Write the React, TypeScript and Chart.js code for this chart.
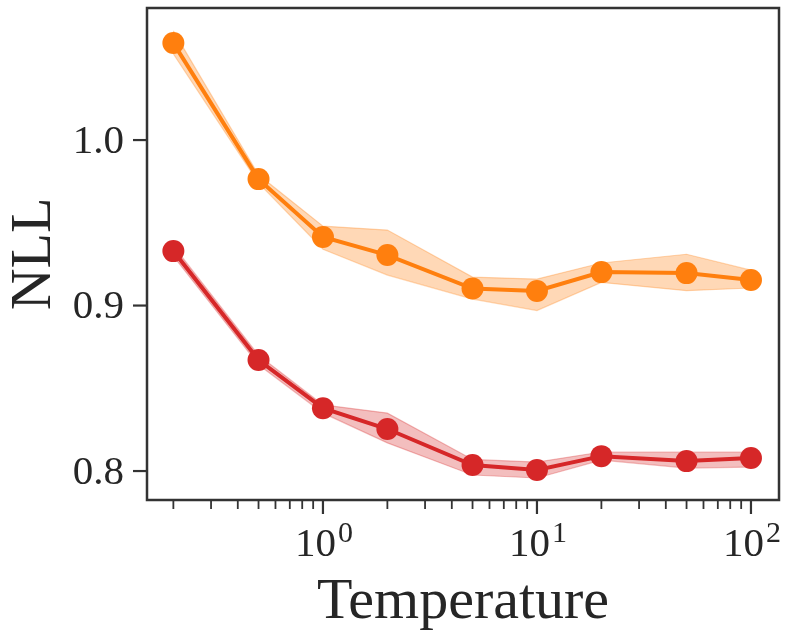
import { useEffect, useRef } from "react"
import { Chart, registerables } from "chart.js"

Chart.register(...registerables)

const FONT = '"Liberation Serif", "DejaVu Serif", serif'

// Temperature (log axis)
const temperatures = [0.2, 0.5, 1, 2, 5, 10, 20, 50, 100]

// orange series
const orangeMean = [1.0586, 0.9764, 0.9414, 0.9305, 0.9103, 0.9088, 0.9202, 0.9196, 0.9154]
const orangeUpper = [1.066, 0.979, 0.948, 0.9456, 0.9172, 0.916, 0.9257, 0.931, 0.9214]
const orangeLower = [1.052, 0.974, 0.934, 0.9184, 0.9039, 0.897, 0.914, 0.909, 0.9106]

// red series
const redMean = [0.9329, 0.8671, 0.838, 0.8254, 0.8036, 0.8006, 0.809, 0.806, 0.8079]
const redUpper = [0.936, 0.87, 0.84, 0.835, 0.807, 0.8054, 0.8115, 0.8115, 0.8115]
const redLower = [0.9298, 0.8642, 0.835, 0.817, 0.7976, 0.7958, 0.8066, 0.8018, 0.8024]

const yTicks = [0.8, 0.9, 1.0]
const xMajorTicks = [1, 10, 100]
const xMajorExp = ["0", "1", "2"]
const xMinorTicks = [0.2, 0.3, 0.4, 0.5, 0.6, 0.7, 0.8, 0.9, 2, 3, 4, 5, 6, 7, 8, 9, 20, 30, 40, 50, 60, 70, 80, 90]

const toPoints = (ys: number[]) => temperatures.map((t, i) => ({ x: t, y: ys[i] }))

const ORANGE = "#ff7f0e"
const RED = "#d62728"
const rgba = (hex: string, a: number) => {
  const n = parseInt(hex.slice(1), 16)
  return `rgba(${(n >> 16) & 255}, ${(n >> 8) & 255}, ${n & 255}, ${a})`
}

const axesPlugin = {
  id: "axesFrame",
  afterDraw(chart: Chart) {
    const { ctx, chartArea: a } = chart
    const xs = chart.scales.x
    const ys = chart.scales.y
    const seg = (x1: number, y1: number, x2: number, y2: number) => {
      ctx.beginPath()
      ctx.moveTo(x1, y1)
      ctx.lineTo(x2, y2)
      ctx.stroke()
    }
    ctx.save()
    ctx.strokeStyle = "#333333"
    ctx.fillStyle = "#262626"

    // frame
    ctx.lineWidth = 2.5
    ctx.strokeRect(a.left, a.top, a.right - a.left, a.bottom - a.top)

    // y ticks
    ctx.lineWidth = 2.2
    ctx.font = `41px ${FONT}`
    ctx.textAlign = "right"
    ctx.textBaseline = "middle"
    yTicks.forEach((v) => {
      const py = ys.getPixelForValue(v)
      seg(a.left - 14, py, a.left, py)
      ctx.fillText(v.toFixed(1), a.left - 23, py + 2)
    })

    // x minor ticks
    ctx.lineWidth = 1.8
    xMinorTicks.forEach((v) => {
      const px = xs.getPixelForValue(v)
      if (px < a.left || px > a.right) return
      seg(px, a.bottom, px, a.bottom + 9)
    })

    // x major ticks + labels
    ctx.lineWidth = 2.2
    ctx.textAlign = "left"
    ctx.textBaseline = "alphabetic"
    xMajorTicks.forEach((v, i) => {
      const px = xs.getPixelForValue(v)
      seg(px, a.bottom, px, a.bottom + 14)
      ctx.font = `41px ${FONT}`
      const w1 = ctx.measureText("10").width
      ctx.font = `30px ${FONT}`
      const w2 = ctx.measureText(xMajorExp[i]).width
      const x0 = px - (w1 + w2) / 2
      ctx.font = `41px ${FONT}`
      ctx.fillText("10", x0, a.bottom + 56)
      ctx.font = `30px ${FONT}`
      ctx.fillText(xMajorExp[i], x0 + w1 + 2, a.bottom + 42)
    })

    // axis titles
    ctx.font = `58px ${FONT}`
    ctx.textAlign = "center"
    ctx.fillText("Temperature", (a.left + a.right) / 2, a.bottom + 118)

    ctx.translate(50, (a.top + a.bottom) / 2)
    ctx.rotate(-Math.PI / 2)
    ctx.fillText("NLL", 0, 0)
    ctx.restore()
  },
}

function NllChart() {
  const chartRef = useRef<HTMLCanvasElement>(null)
  const chartInstance = useRef<Chart | null>(null)

  useEffect(() => {
    if (!chartRef.current) return
    if (chartInstance.current) chartInstance.current.destroy()
    const ctx = chartRef.current.getContext("2d")
    if (!ctx) return

    const band = (ys: number[], color: string, fill: boolean | string) => ({
      data: toPoints(ys),
      borderColor: rgba(color, 0.3),
      backgroundColor: rgba(color, 0.3),
      borderWidth: 1.2,
      pointRadius: 0,
      fill,
      order: 3,
    })
    const mean = (ys: number[], color: string) => ({
      data: toPoints(ys),
      borderColor: color,
      backgroundColor: color,
      borderWidth: 4,
      pointRadius: 11,
      pointBorderWidth: 0,
      pointBackgroundColor: color,
      fill: false,
      order: 1,
    })

    chartInstance.current = new Chart(ctx, {
      type: "line",
      data: {
        datasets: [
          band(orangeLower, ORANGE, false),
          band(orangeUpper, ORANGE, "-1"),
          band(redLower, RED, false),
          band(redUpper, RED, "-1"),
          mean(orangeMean, ORANGE),
          mean(redMean, RED),
        ] as any,
      },
      options: {
        animation: false,
        responsive: true,
        maintainAspectRatio: false,
        layout: {
          autoPadding: false,
          padding: { left: 147, top: 8, right: 10, bottom: 138 },
        },
        plugins: {
          legend: { display: false },
          tooltip: { enabled: false },
        },
        scales: {
          x: { type: "logarithmic", min: 0.1506, max: 135.2, display: false },
          y: { type: "linear", min: 0.7825, max: 1.0798, display: false },
        },
      },
      plugins: [axesPlugin],
    })

    return () => {
      if (chartInstance.current) {
        chartInstance.current.destroy()
        chartInstance.current = null
      }
    }
  }, [])

  return (
    <div style={{ width: 789, height: 638, position: "relative", background: "#fff" }}>
      <canvas ref={chartRef} />
    </div>
  )
}

export default function App() {
  useEffect(() => {
    document.body.style.margin = "0"
  }, [])
  return <NllChart />
}
